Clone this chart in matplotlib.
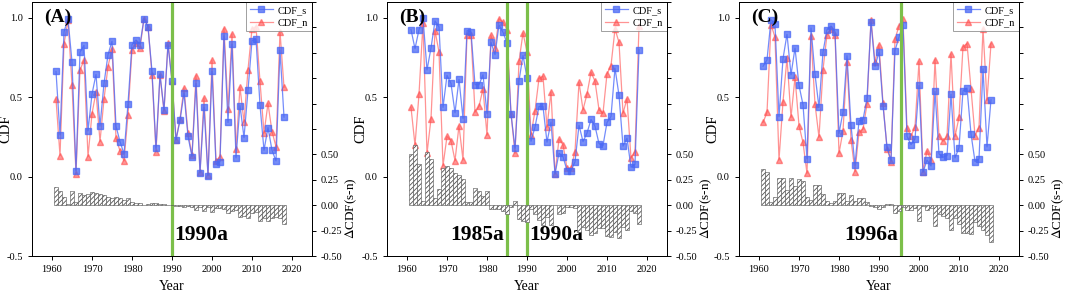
import matplotlib
matplotlib.use("Agg")
import matplotlib.pyplot as plt
import numpy as np

plt.rcParams['font.family'] = ['Liberation Serif', 'DejaVu Serif']
plt.rcParams['hatch.linewidth'] = 0.6
plt.rcParams['mathtext.fontset'] = 'stix'

years = list(range(1961, 2019))

a_s = [0.663, 0.263, 0.912, 0.994, 0.722, 0.038, 0.785, 0.827, 0.288, 0.52,
       0.644, 0.318, 0.587, 0.768, 0.853, 0.318, 0.221, 0.143, 0.459, 0.832,
       0.861, 0.832, 0.996, 0.945, 0.663, 0.179, 0.644, 0.421, 0.832, 0.604,
       0.232, 0.354, 0.526, 0.253, 0.126, 0.587, 0.023, 0.438, 0.006, 0.663,
       0.078, 0.095, 0.888, 0.341, 0.836, 0.118, 0.448, 0.246, 0.543, 0.857,
       0.867, 0.45, 0.166, 0.309, 0.166, 0.099, 0.798, 0.375]
a_n = [0.488, 0.133, 0.836, 0.985, 0.579, 0.019, 0.672, 0.733, 0.126, 0.396,
       0.533, 0.221, 0.488, 0.693, 0.806, 0.242, 0.162, 0.099, 0.389, 0.8,
       0.84, 0.81, 0.996, 0.945, 0.642, 0.158, 0.638, 0.413, 0.842, 0.604,
       0.232, 0.364, 0.558, 0.274, 0.137, 0.636, 0.027, 0.495, 0.011, 0.733,
       0.097, 0.126, 0.933, 0.427, 0.899, 0.171, 0.564, 0.343, 0.674, 0.931,
       0.945, 0.6, 0.274, 0.461, 0.284, 0.189, 0.914, 0.562]
a_d = [0.177, 0.135, 0.082, 0.013, 0.141, 0.03, 0.118, 0.102, 0.112, 0.128,
       0.118, 0.112, 0.105, 0.085, 0.069, 0.079, 0.066, 0.052, 0.066, 0.036,
       0.026, 0.023, 0.0, 0.007, 0.02, 0.02, 0.013, 0.013, 0.0, 0.0,
       -0.003, -0.007, -0.02, -0.01, -0.013, -0.046, -0.013, -0.056, -0.013, -0.066,
       -0.026, -0.03, -0.04, -0.079, -0.059, -0.052, -0.118, -0.105, -0.128, -0.072,
       -0.069, -0.151, -0.128, -0.151, -0.128, -0.112, -0.128, -0.184]

b_s = [0.926, 0.806, 0.926, 1.0, 0.672, 0.81, 0.981, 0.943, 0.436, 0.638,
       0.587, 0.402, 0.613, 0.366, 0.92, 0.912, 0.579, 0.579, 0.642, 0.396,
       0.846, 0.768, 0.956, 0.909, 0.842, 0.396, 0.179, 0.604, 0.764, 0.623,
       0.223, 0.312, 0.442, 0.442, 0.217, 0.345, 0.017, 0.147, 0.126, 0.038,
       0.038, 0.093, 0.324, 0.221, 0.274, 0.36, 0.318, 0.208, 0.196, 0.341,
       0.379, 0.684, 0.512, 0.192, 0.242, 0.059, 0.078, 0.8]
b_n = [0.436, 0.198, 0.52, 0.968, 0.147, 0.364, 0.92, 0.785, 0.069, 0.253,
       0.227, 0.101, 0.32, 0.105, 0.893, 0.893, 0.406, 0.442, 0.554, 0.261,
       0.891, 0.81, 0.994, 0.973, 0.926, 0.396, 0.147, 0.726, 0.905, 0.785,
       0.263, 0.415, 0.619, 0.632, 0.312, 0.533, 0.017, 0.236, 0.202, 0.053,
       0.053, 0.158, 0.594, 0.421, 0.52, 0.657, 0.602, 0.421, 0.4, 0.648,
       0.699, 0.93, 0.846, 0.4, 0.49, 0.116, 0.158, 0.95]
b_d = [0.5, 0.59, 0.407, 0.04, 0.528, 0.456, 0.072, 0.16, 0.37, 0.39,
       0.364, 0.318, 0.295, 0.262, 0.036, 0.03, 0.174, 0.141, 0.092, 0.138,
       -0.039, -0.039, -0.039, -0.056, -0.089, -0.013, 0.039, -0.138, -0.151, -0.17,
       -0.039, -0.089, -0.144, -0.194, -0.112, -0.194, 0.003, -0.089, -0.079, -0.013,
       -0.013, -0.03, -0.266, -0.21, -0.243, -0.292, -0.276, -0.226, -0.226, -0.302,
       -0.315, -0.266, -0.325, -0.21, -0.243, -0.059, -0.079, -0.184]

c_s = [0.695, 0.735, 0.989, 0.962, 0.377, 0.743, 0.897, 0.642, 0.81, 0.575,
       0.453, 0.112, 0.937, 0.644, 0.436, 0.785, 0.926, 0.949, 0.914, 0.272,
       0.408, 0.762, 0.324, 0.072, 0.352, 0.358, 0.493, 0.975, 0.695, 0.785,
       0.448, 0.187, 0.103, 0.794, 0.88, 0.958, 0.253, 0.202, 0.236, 0.575,
       0.027, 0.105, 0.067, 0.537, 0.143, 0.122, 0.133, 0.52, 0.118, 0.183,
       0.541, 0.558, 0.269, 0.095, 0.112, 0.68, 0.187, 0.484]
c_n = [0.341, 0.404, 0.958, 0.878, 0.105, 0.472, 0.747, 0.373, 0.625, 0.322,
       0.215, 0.021, 0.888, 0.457, 0.248, 0.674, 0.895, 0.931, 0.891, 0.147,
       0.288, 0.722, 0.232, 0.032, 0.28, 0.299, 0.457, 0.989, 0.722, 0.832,
       0.463, 0.177, 0.095, 0.869, 0.947, 0.994, 0.305, 0.257, 0.312, 0.726,
       0.032, 0.162, 0.105, 0.737, 0.253, 0.223, 0.253, 0.773, 0.253, 0.373,
       0.817, 0.838, 0.554, 0.259, 0.309, 0.931, 0.48, 0.838]
c_d = [0.354, 0.331, 0.036, 0.085, 0.266, 0.272, 0.151, 0.272, 0.19, 0.256,
       0.24, 0.085, 0.052, 0.194, 0.194, 0.112, 0.039, 0.026, 0.043, 0.125,
       0.125, 0.043, 0.102, 0.043, 0.075, 0.066, 0.03, -0.007, -0.02, -0.039,
       -0.013, 0.013, 0.007, -0.079, -0.062, -0.013, -0.046, -0.052, -0.03, -0.151,
       -0.003, -0.052, -0.03, -0.2, -0.089, -0.105, -0.128, -0.243, -0.128, -0.184,
       -0.276, -0.276, -0.282, -0.161, -0.203, -0.243, -0.292, -0.358]

panel_labels = ['(A)', '(B)', '(C)']
break_years = [[1990], [1985, 1990], [1995.4]]
break_texts = [[('1990a', 1990, 'left')],
               [('1985a', 1985, 'right'), ('1990a', 1990, 'left')],
               [('1996a', 1995.4, 'right')]]

panels = [(a_s, a_n, a_d), (b_s, b_n, b_d), (c_s, c_n, c_d)]
lefts = [32, 387, 739]

fig = plt.figure(figsize=(10.65, 2.96), dpi=100)
blue = '#4666FA'
red = '#FF4B4B'

for i, (s, n, d) in enumerate(panels):
    ax = fig.add_axes([lefts[i] / 1065, 40 / 296, 280 / 1065, 254 / 296])
    ax2 = ax.twinx()
    ax.plot(years, s, color=blue, lw=0.9, alpha=0.75, marker='s', ms=4.4,
            mfc='#4A68F5', mec='#4A68F5', label='CDF_s', zorder=3)
    ax.plot(years, n, color=red, lw=0.9, alpha=0.6, marker='^', ms=4.7,
            mfc='#FF5050', mec='#FF5050', label='CDF_n', zorder=2)
    ax2.bar(years, d, width=0.85, facecolor='white', edgecolor='#505050',
            hatch='///////', linewidth=0.4)
    for by in break_years[i]:
        ax.axvline(by, color='#7CBF4A', lw=2.3, zorder=5)
    for txt, bx, ha in break_texts[i]:
        off = 0.6 if ha == 'left' else -0.6
        ax.text(bx + off, -0.37, txt, ha=ha, va='center', fontsize=15.5,
                fontweight='bold', zorder=6)
    ax.text(0.045, 0.975, panel_labels[i], transform=ax.transAxes, ha='left',
            va='top', fontsize=14, fontweight='bold', zorder=6)

    ax.set_xlim(1955, 2025)
    ax.set_ylim(-0.5, 1.1)
    ax2.set_ylim(-0.5, 2.0)
    ax.set_xticks([1960, 1970, 1980, 1990, 2000, 2010, 2020])
    ax.set_yticks([-0.5, 0.0, 0.5, 1.0])
    ax.set_yticklabels(['-0.5', '0.0', '0.5', '1.0'])
    rt = np.arange(-0.5, 2.01, 0.25)
    ax2.set_yticks(rt)
    ax2.set_yticklabels(['%.2f' % t if t <= 0.5 + 1e-9 else '' for t in rt])
    ax.tick_params(labelsize=7.5, direction='out', length=3, width=0.7)
    ax2.tick_params(labelsize=7.5, direction='out', length=3, width=0.7)
    ax.set_xlabel('Year', fontsize=10, labelpad=4)
    ax.set_ylabel('CDF', fontsize=10.5)
    ax.yaxis.set_label_coords(-0.07, 0.5)
    ax2.set_ylabel(r'$\Delta$CDF(s-n)', fontsize=9.5)
    ax2.yaxis.set_label_coords(1.112, 0.19)
    for sp in list(ax.spines.values()) + list(ax2.spines.values()):
        sp.set_linewidth(0.7)
    leg = ax.legend(loc='upper right', fontsize=7.5, frameon=True, fancybox=False,
                    edgecolor='#888888', borderaxespad=0.0, handlelength=2.2,
                    borderpad=0.35, labelspacing=0.3, handletextpad=0.5)
    leg.get_frame().set_linewidth(0.7)
    leg.set_zorder(10)

fig.savefig('out.png', dpi=100)
